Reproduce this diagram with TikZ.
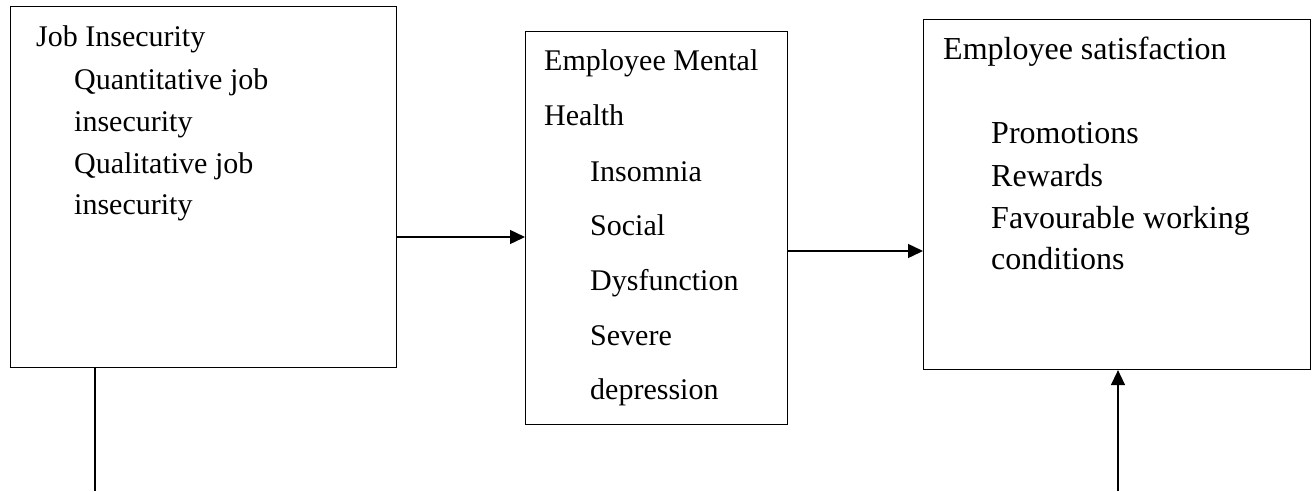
\documentclass[tikz,border=0pt]{standalone}
\usepackage{fontspec}
\setmainfont{Liberation Serif}
\usetikzlibrary{arrows.meta}
\begin{document}
\begin{tikzpicture}[x=1pt,y=-1pt,
  boxstyle/.style={draw,line width=1.1pt,inner sep=0pt,anchor=north west},
  txt/.style={anchor=base west,inner sep=0pt,font=\fontsize{30}{36}\selectfont},
  txtb/.style={anchor=base west,inner sep=0pt,font=\fontsize{32}{38}\selectfont},
  conn/.style={line width=1.4pt,-{Triangle[length=15pt,width=14pt]}},
  plain/.style={line width=1.4pt}]
\useasboundingbox (0,0) rectangle (1312,491);
\node[boxstyle,minimum width=386pt,minimum height=361pt] (b1) at (10,6) {};
\node[boxstyle,minimum width=262pt,minimum height=393pt] (b2) at (525,31) {};
\node[boxstyle,minimum width=387pt,minimum height=350pt] (b3) at (923,19) {};
% box 1 text
\node[txt] (t11) at (36,46) {Job Insecurity};
\node[txt] (t12) at (74,89) {Quantitative job};
\node[txt] (t13) at (74,131) {insecurity};
\node[txt] (t14) at (74,173) {Qualitative job};
\node[txt] (t15) at (74,214) {insecurity};
% box 2 text
\node[txt] (t21) at (544,70) {Employee Mental};
\node[txt] (t22) at (544,125) {Health};
\node[txt] (t23) at (590,181) {Insomnia};
\node[txt] (t24) at (590,235) {Social};
\node[txt] (t25) at (590,290) {Dysfunction};
\node[txt] (t26) at (590,345) {Severe};
\node[txt] (t27) at (590,399) {depression};
% box 3 text
\node[txtb] (t31) at (943,59) {Employee satisfaction};
\node[txtb] (t32) at (991,143) {Promotions};
\node[txtb] (t33) at (991,186) {Rewards};
\node[txtb] (t34) at (991,228) {Favourable working};
\node[txtb] (t35) at (991,269) {conditions};
% connectors
\coordinate (a1) at (0,237);
\coordinate (a2) at (0,251);
\coordinate (l1) at (95,491);
\coordinate (u1) at (1118,491);
\draw[conn] (b1.east |- a1) -- (b2.west |- a1);
\draw[conn] (b2.east |- a2) -- (b3.west |- a2);
\draw[plain] (b1.south -| l1) -- (l1);
\draw[conn] (u1) -- (b3.south -| u1);
\end{tikzpicture}
\end{document}
